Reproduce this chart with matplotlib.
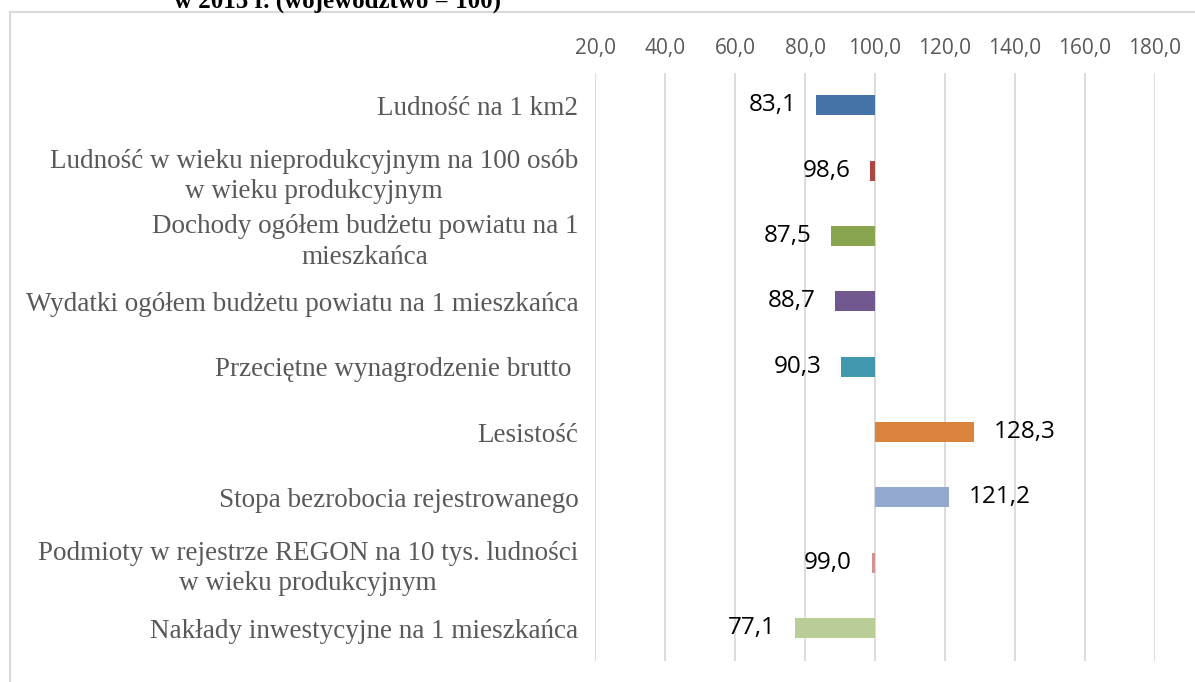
import matplotlib
matplotlib.use("Agg")
import matplotlib.pyplot as plt
import matplotlib.patches as mpatches
import numpy as np

# dane: wskaźniki powiatu w 2015 r. (województwo = 100)
kategorie = [
    "Ludność na 1 km2",
    "Ludność w wieku nieprodukcyjnym na 100 osób\nw wieku produkcyjnym",
    "Dochody ogółem budżetu powiatu na 1\nmieszkańca",
    "Wydatki ogółem budżetu powiatu na 1 mieszkańca",
    "Przeciętne wynagrodzenie brutto ",
    "Lesistość",
    "Stopa bezrobocia rejestrowanego",
    "Podmioty w rejestrze REGON na 10 tys. ludności\nw wieku produkcyjnym",
    "Nakłady inwestycyjne na 1 mieszkańca",
]
wartosci = [83.1, 98.6, 87.5, 88.7, 90.3, 128.3, 121.2, 99.0, 77.1]
kolory = ["#4572A7", "#AA4643", "#89A54E", "#71588F", "#4198AF",
          "#DB843D", "#93A9CF", "#D19392", "#B9CD96"]
baza = 100.0
ticki = [20, 40, 60, 80, 100, 120, 140, 160, 180]

def fmt(v):
    return ("%.1f" % v).replace(".", ",")

fig = plt.figure(figsize=(11.95, 6.82), dpi=100)
ax = fig.add_axes([595/1195, 1 - 660.7/682, 560/1195, 588/682])

y = np.arange(len(kategorie))
ax.barh(y, np.array(wartosci) - baza, left=baza, height=0.31, color=kolory, zorder=3)

for yi, v in zip(y, wartosci):
    if v < baza:
        ax.annotate(fmt(v), (v, yi), xytext=(-14, 0), textcoords="offset points",
                    ha="right", va="center", fontsize=17.5, family="Open Sans", color="black")
    else:
        ax.annotate(fmt(v), (v, yi), xytext=(14, 0), textcoords="offset points",
                    ha="left", va="center", fontsize=17.5, family="Open Sans", color="black")

ax.set_xlim(20, 180)
ax.set_ylim(len(kategorie) - 0.5, -0.5)
ax.set_xticks(ticki)
ax.set_xticklabels([fmt(t) for t in ticki], family="Open Sans", fontsize=15, color="#595959")
ax.xaxis.tick_top()
ax.tick_params(axis="x", length=0, pad=10)
ax.set_yticks(y)
ax.set_yticklabels(kategorie, family="Liberation Serif", fontsize=19.5, color="#595959",
                   linespacing=1.3)
for lab in ax.get_yticklabels():
    lab.set_multialignment("center")
ax.tick_params(axis="y", length=0, pad=12)
ax.grid(axis="x", color="#D9D9D9", linewidth=1.3, zorder=0)
for s in ax.spines.values():
    s.set_visible(False)

# ramka wykresu (widoczna tylko z góry i z lewej)
fig.add_artist(mpatches.Rectangle((10/1195, -0.5), 2, 1 - 12/682 + 0.5,
                                  transform=fig.transFigure, fill=False,
                                  edgecolor="#D9D9D9", linewidth=1.5))

fig.text(338/1195, 1 - 8/682, "w 2015 r. (województwo = 100)", ha="center", va="baseline",
         family="Liberation Serif", fontweight="bold", fontsize=18, color="black")

fig.savefig("out.png", dpi=100)
